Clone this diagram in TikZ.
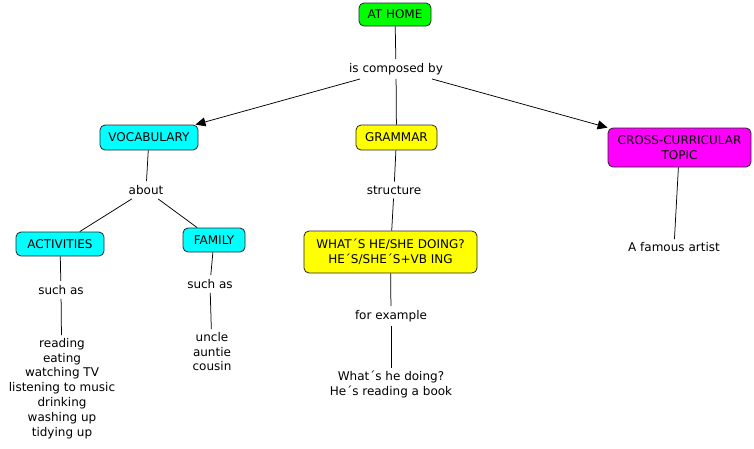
\documentclass[tikz,border=0pt]{standalone}
\usepackage{fontspec}
\setmainfont{DejaVu Sans}
\usetikzlibrary{arrows.meta}
\definecolor{cgreen}{RGB}{0,255,0}
\definecolor{ccyan}{RGB}{0,255,255}
\definecolor{cyellow}{RGB}{255,255,0}
\definecolor{cmag}{RGB}{255,0,255}
\begin{document}
\begin{tikzpicture}[x=1pt,y=-1pt,
  every node/.style={font=\fontsize{12}{14.8}\selectfont, align=center},
  concept/.style={draw=black!85, line width=0.8pt, rounded corners=5pt, inner sep=2pt},
  lbl/.style={inner sep=4pt, fill=white},
  conn/.style={line width=0.75pt, black},
  arr/.style={conn, -{Triangle[length=10pt,width=9pt]}}
]
\useasboundingbox (0,0) rectangle (754,448);
% concepts
\node[concept, fill=cgreen, minimum width=72pt, minimum height=23pt] (home) at (395,14.5) {AT HOME};
\node[concept, fill=ccyan, minimum width=98pt, minimum height=25pt] (voc) at (149,137.5) {VOCABULARY};
\node[concept, fill=cyellow, minimum width=81pt, minimum height=25pt] (gram) at (396.5,137.5) {GRAMMAR};
\node[concept, fill=cmag, minimum width=143pt, minimum height=39pt] (cross) at (679.5,147.5) {CROSS-CURRICULAR\\TOPIC};
\node[concept, fill=ccyan, minimum width=88pt, minimum height=24pt] (act) at (60,244) {ACTIVITIES};
\node[concept, fill=ccyan, minimum width=62pt, minimum height=24pt] (fam) at (214,240) {FAMILY};
\node[concept, fill=cyellow, minimum width=173pt, minimum height=42pt] (what) at (390.5,252) {WHAT´S HE/SHE DOING?\\HE´S/SHE´S+VB ING};
% plain concepts
\node[inner sep=3pt] (artist) at (674,247) {A famous artist};
\node[inner sep=3pt, anchor=north] (actlist) at (62,335) {reading\\eating\\watching TV\\listening to music\\drinking\\washing up\\tidying up};
\node[inner sep=3pt, anchor=north] (famlist) at (212,329) {uncle\\auntie\\cousin};
\node[inner sep=3pt, anchor=north] (ex) at (391,368) {What´s he doing?\\He´s reading a book};
% linking phrases
\node[lbl] (comp) at (396,69) {is composed by};
\node[lbl] (about) at (146,190) {about};
\node[lbl] (struct) at (394,190) {structure};
\node[lbl] (such1) at (61,290) {such as};
\node[lbl] (such2) at (210,284) {such as};
\node[lbl] (forex) at (391,316) {for example};
% connectors
\draw[conn] (home) -- (comp);
\draw[arr] (comp) -- (voc);
\draw[conn] (comp) -- (gram);
\draw[arr] (comp) -- (cross);
\draw[conn] (voc) -- (about);
\draw[conn] (about) -- (act);
\draw[conn] (about) -- (fam);
\draw[conn] (act) -- (such1);
\draw[conn] (such1) -- (actlist);
\draw[conn] (fam) -- (such2);
\draw[conn] (such2) -- (famlist);
\draw[conn] (gram) -- (struct);
\draw[conn] (struct) -- (what);
\draw[conn] (what) -- (forex);
\draw[conn] (forex) -- (ex);
\draw[conn] (cross) -- (artist);
\end{tikzpicture}
\end{document}
